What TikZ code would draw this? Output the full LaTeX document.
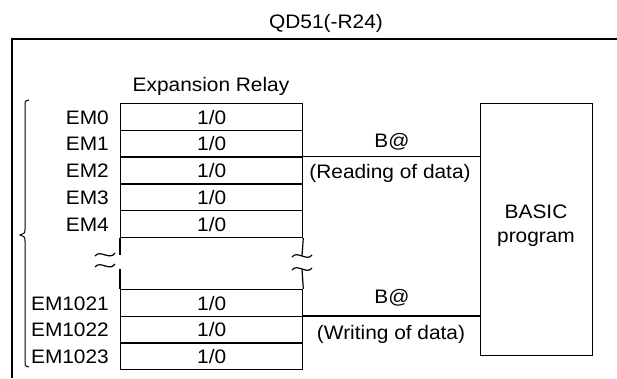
\documentclass[tikz,border=0pt]{standalone}
\usepackage{fontspec}
\setmainfont{Liberation Sans}[FakeStretch=1.07]
\begin{document}
\begin{tikzpicture}[x=1pt,y=-1pt,
  every node/.style={font=\fontsize{19.5}{22}\selectfont, inner sep=0pt},
  cell/.style={draw, line width=1.3pt, minimum width=182pt, minimum height=26.7pt, text height=14pt, text depth=0pt, anchor=north west},
  emlabel/.style={anchor=base east},
  txt/.style={anchor=base},
  ln/.style={line width=1.2pt},
  thickln/.style={line width=1.9pt},
]
\useasboundingbox (0,0) rectangle (617,378);
% title and frame
\node[txt] (title) at (326,28) {QD51(-R24)};
\coordinate (ftl) at (12,39);
\coordinate (ftr) at (617,39);
\coordinate (fbl) at (12,378);
\draw[line width=1.5pt, line join=miter] (ftr) -- (ftl) -- (fbl);
% heading
\node[txt] (head) at (211,91) {Expansion Relay};
% rows
\node[cell] (r0) at (120,103) {1/0};
\node[cell] (r1) at (120,129.75) {1/0};
\node[cell] (r2) at (120,156.5) {1/0};
\node[cell] (r3) at (120,183.25) {1/0};
\node[cell] (r4) at (120,210) {1/0};
\node[cell] (r1021) at (120,289) {1/0};
\node[cell] (r1022) at (120,315.7) {1/0};
\node[cell] (r1023) at (120,342.3) {1/0};
% labels
\foreach \r/\t in {r0/EM0,r1/EM1,r2/EM2,r3/EM3,r4/EM4,r1021/EM1021,r1022/EM1022,r1023/EM1023}
  \node[emlabel] (l\r) at ([xshift=-11pt,yshift=7pt]\r.south west) {\t};
% gap region
\coordinate (gl1) at (120,255);
\coordinate (gl2) at (120,269);
\coordinate (gr1) at (302,256);
\coordinate (gr2) at (302,269);
\draw[ln] (r4.south west) -- (gl1);
\draw[ln] (gl2) -- (r1021.north west);
\draw[ln] (r4.south east) -- (gr1);
\draw[ln] (gr2) -- (r1021.north east);
\draw[ln] (95,256) .. controls (100,249) and (110,261) .. (115,253);
\draw[ln] (95,267) .. controls (100,260) and (110,272) .. (115,264);
\draw[ln] (292,257) .. controls (297,250) and (307,262) .. (312,255);
\draw[ln] (292,270) .. controls (297,263) and (307,275) .. (312,268);
% brace
\draw[line width=1pt] (29,100) .. controls (25,101) .. (25,106) -- (25,229) .. controls (25,233) .. (20,235) .. controls (25,237) .. (25,241) -- (25,361) .. controls (25,366) .. (29,367);
% BASIC box
\node[draw, line width=1.2pt, minimum width=112pt, minimum height=252pt, anchor=north west] (basic) at (480,103) {};
\node[txt] (basic1) at (536,218) {BASIC};
\node[txt] (basic2) at (536,242) {program};
% connectors
\draw[thickln] (r2.north east) -- (r2.north east -| basic.west);
\draw[thickln] (r1022.north east) -- (r1022.north east -| basic.west);
\node[txt] (b1) at (392,147) {B@};
\node[txt] (rd) at (390,178) {(Reading of data)};
\node[txt] (b2) at (392,303) {B@};
\node[txt] (wr) at (391,339) {(Writing of data)};
\end{tikzpicture}
\end{document}
